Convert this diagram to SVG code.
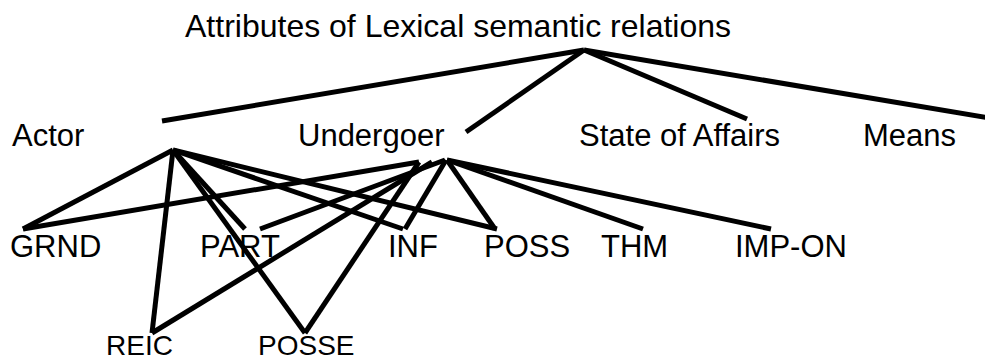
<svg xmlns="http://www.w3.org/2000/svg" width="985" height="362" viewBox="0 0 985 362">
  <style>
    text { font-family: "Liberation Sans", Arial, sans-serif; fill: #000; }
    .title { font-size: 32px; }
    .lvl1 { font-size: 31px; }
    .lvl2 { font-size: 31px; }
    .lvl3 { font-size: 28px; }
    .edge { stroke: #000; stroke-width: 5; fill: none; stroke-linecap: butt; }
  </style>
  <rect width="985" height="362" fill="#fff"/>

  <!-- connectors -->
  <g id="connectors" class="edge">
    <!-- root to attributes -->
    <line x1="584" y1="50" x2="162" y2="121"/>
    <line x1="584" y1="50" x2="466" y2="132"/>
    <line x1="584" y1="50" x2="747" y2="119"/>
    <line x1="584" y1="50" x2="995" y2="119"/>
    <!-- Actor to relations -->
    <line x1="173" y1="150" x2="23" y2="229"/>
    <line x1="173" y1="150" x2="152" y2="333"/>
    <line x1="173" y1="150" x2="245" y2="229"/>
    <line x1="173" y1="150" x2="305" y2="333"/>
    <line x1="173" y1="150" x2="403" y2="229"/>
    <line x1="173" y1="150" x2="497" y2="229"/>
    <!-- Undergoer to relations -->
    <line x1="419" y1="162" x2="23" y2="229"/>
    <line x1="445" y1="160" x2="260" y2="229"/>
    <line x1="432" y1="162" x2="152" y2="333"/>
    <line x1="419" y1="162" x2="305" y2="333"/>
    <line x1="446" y1="160" x2="405" y2="229"/>
    <line x1="447" y1="160" x2="495" y2="229"/>
    <line x1="447" y1="160" x2="643" y2="229"/>
    <line x1="447" y1="160" x2="771" y2="229"/>
  </g>

  <g id="root"><text class="title" x="185" y="37">Attributes of Lexical semantic relations</text></g>

  <g id="actor"><text class="lvl1" x="12" y="146">Actor</text></g>
  <g id="undergoer"><text class="lvl1" x="298" y="146">Undergoer</text></g>
  <g id="state-of-affairs"><text class="lvl1" x="579" y="146">State of Affairs</text></g>
  <g id="means"><text class="lvl1" x="863" y="146">Means</text></g>

  <g id="grnd"><text class="lvl2" x="10" y="257">GRND</text></g>
  <g id="part"><text class="lvl2" x="200" y="257">PART</text></g>
  <g id="inf"><text class="lvl2" x="388" y="257">INF</text></g>
  <g id="poss"><text class="lvl2" x="484" y="257">POSS</text></g>
  <g id="thm"><text class="lvl2" x="601" y="257">THM</text></g>
  <g id="imp-on"><text class="lvl2" x="735" y="257">IMP-ON</text></g>

  <g id="reic"><text class="lvl3" x="106" y="355">REIC</text></g>
  <g id="posse"><text class="lvl3" x="258" y="355">POSSE</text></g>
</svg>
